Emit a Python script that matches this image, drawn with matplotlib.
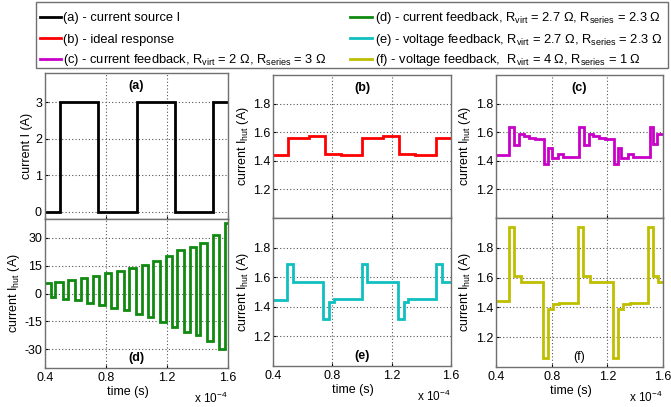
import matplotlib
matplotlib.use("Agg")
import matplotlib.pyplot as plt
from matplotlib.lines import Line2D
from matplotlib.patches import Rectangle

plt.rcParams['font.family'] = ['Liberation Sans', 'DejaVu Sans']
plt.rcParams['mathtext.fontset'] = 'custom'
plt.rcParams['mathtext.rm'] = 'Liberation Sans'
plt.rcParams['mathtext.it'] = 'Liberation Sans:italic'
plt.rcParams['mathtext.bf'] = 'Liberation Sans:bold'
plt.rcParams['axes.unicode_minus'] = False

# ---------------- data (time in units of 1e-4 s) ----------------
t_a = [0.4, 0.5, 0.75, 1.0, 1.25, 1.5, 1.6]
i_a = [0, 3, 0, 3, 0, 3, 3]

t_b = [0.4, 0.5, 0.64, 0.75, 0.86, 1.0, 1.14, 1.25, 1.36, 1.5, 1.6]
i_b = [1.44, 1.56, 1.57, 1.45, 1.44, 1.56, 1.57, 1.45, 1.44, 1.56, 1.56]

t_c = [0.4, 0.495, 0.53, 0.565, 0.60, 0.64, 0.68, 0.745, 0.775, 0.80, 0.845, 0.885,
       0.995, 1.03, 1.065, 1.10, 1.14, 1.18, 1.245, 1.275, 1.30, 1.345, 1.385,
       1.505, 1.53, 1.555, 1.6]
i_c = [1.44, 1.635, 1.51, 1.59, 1.575, 1.56, 1.55, 1.375, 1.49, 1.42, 1.45, 1.43,
       1.635, 1.51, 1.59, 1.575, 1.56, 1.55, 1.375, 1.49, 1.42, 1.45, 1.43,
       1.635, 1.52, 1.59, 1.59]

t_d = [0.4, 0.437, 0.466, 0.516, 0.553, 0.598, 0.634, 0.677, 0.713, 0.757, 0.793,
       0.836, 0.874, 0.915, 0.953, 0.995, 1.034, 1.075, 1.11, 1.152, 1.193, 1.233,
       1.268, 1.31, 1.351, 1.392, 1.416, 1.46, 1.504, 1.54, 1.58, 1.6]
i_d = [5.8, -1.8, 6.3, -2.7, 7.2, -3.6, 8.1, -4.9, 9.4, -6.3, 10.8, -7.8, 12.1,
       -9.0, 13.6, -10.8, 15.4, -12.6, 17.6, -15.4, 20.3, -18.1, 23.5, -20.8,
       25.0, -22.5, 27.0, -25.5, 31.4, -30.0, 38, 38]

t_e = [0.4, 0.497, 0.533, 0.58, 0.74, 0.78, 0.81, 0.998, 1.036, 1.08, 1.245, 1.28,
       1.31, 1.497, 1.537, 1.6]
i_e = [1.445, 1.69, 1.57, 1.565, 1.32, 1.435, 1.45, 1.69, 1.57, 1.565, 1.32, 1.435,
       1.45, 1.69, 1.565, 1.565]

t_f = [0.4, 0.495, 0.531, 0.579, 0.741, 0.777, 0.81, 0.855, 0.992, 1.028, 1.076,
       1.243, 1.279, 1.315, 1.36, 1.49, 1.53, 1.566, 1.6]
i_f = [1.44, 1.94, 1.61, 1.57, 1.06, 1.39, 1.42, 1.43, 1.94, 1.61, 1.57, 1.06,
       1.39, 1.42, 1.43, 1.94, 1.61, 1.57, 1.57]

x_ticks = [0.4, 0.8, 1.2, 1.6]
x_tick_labels = ['0.4', '0.8', '1.2', '1.6']
legend_labels = [
    "(a) - current source I",
    "(b) - ideal response",
    r"(c) - current feedback, R$_{\mathrm{virt}}$ = 2 Ω, R$_{\mathrm{series}}$ = 3 Ω",
    r"(d) - current feedback, R$_{\mathrm{virt}}$ = 2.7 Ω, R$_{\mathrm{series}}$ = 2.3 Ω",
    r"(e) - voltage feedback, R$_{\mathrm{virt}}$ = 2.7 Ω, R$_{\mathrm{series}}$ = 2.3 Ω",
    r"(f) - voltage feedback,  R$_{\mathrm{virt}}$ = 4 Ω, R$_{\mathrm{series}}$ = 1 Ω",
]
colors = ['#000000', '#ff0000', '#c800c8', '#108a10', '#10c0c0', '#bfbf00']

# ---------------- layout ----------------
W, H = 671, 407
fig = plt.figure(figsize=(W / 100, H / 100), dpi=100)


def ax_at(l, r, t, b):
    return fig.add_axes([l / W, 1 - b / H, (r - l) / W, (b - t) / H])


axa = ax_at(45, 228, 73, 219)
axd = ax_at(45, 228, 219, 368)
axb = ax_at(273, 451, 75, 218)
axe = ax_at(273, 451, 218, 366)
axc = ax_at(496, 663, 75, 218)
axf = ax_at(496, 663, 218, 367)

series = [(axa, t_a, i_a), (axb, t_b, i_b), (axc, t_c, i_c),
          (axd, t_d, i_d), (axe, t_e, i_e), (axf, t_f, i_f)]
for (ax, t, v), c in zip(series, colors):
    ax.plot(t, v, drawstyle='steps-post', color=c, lw=2.0, solid_joinstyle='miter')

for ax in [axa, axb, axc, axd, axe, axf]:
    ax.set_xlim(0.4, 1.6)
    ax.set_xticks(x_ticks)
    ax.grid(True, linestyle=(0, (1, 2)), color='#555555', linewidth=0.8)
    ax.tick_params(direction='in', length=2, labelsize=9, colors='#000000', pad=2.2)
    ax.tick_params(axis='x', pad=3)
    for s in ax.spines.values():
        s.set_color('#707070')
        s.set_linewidth(1.0)

for ax in [axa, axb, axc]:
    ax.set_xticklabels([])
for ax in [axd, axe, axf]:
    ax.set_xticklabels(x_tick_labels)
    h = ax.get_position().height * H
    w = ax.get_position().width * W
    ax.set_xlabel('time (s)', fontsize=9)
    ax.xaxis.set_label_coords(0.5 - 9 / w, -18 / h)
    ax.text(1.0, -23 / h, r'x 10$^{-4}$', transform=ax.transAxes, ha='right', va='top', fontsize=8.5)

axa.set_ylim(-0.2, 3.8)
axa.set_yticks([0, 1, 2, 3])
axd.set_ylim(-40, 40)
axd.set_yticks([-30, -15, 0, 15, 30])
for ax in [axb, axc, axe, axf]:
    ax.set_ylim(1.0, 2.0)
    ax.set_yticks([1.2, 1.4, 1.6, 1.8])

axa.set_ylabel('current I (A)', fontsize=9)
for ax in [axb, axc, axd, axe, axf]:
    ax.set_ylabel(r'current I$_{\mathrm{hut}}$ (A)', fontsize=9)

ylab_right = {axa: 33, axd: 22, axb: 251, axe: 251, axc: 473, axf: 473}
for ax, xr in ylab_right.items():
    p = ax.get_position()
    ax.yaxis.set_label_coords((xr / W - p.x0) / p.width, 0.5)

for ax, lab in [(axa, '(a)'), (axb, '(b)'), (axc, '(c)')]:
    ax.text(0.5, 0.95, lab, transform=ax.transAxes, ha='center', va='top', fontsize=9, fontweight='bold')
for ax, lab, fw in [(axd, '(d)', 'bold'), (axe, '(e)', 'bold'), (axf, '(f)', 'normal')]:
    ax.text(0.5, 0.025, lab, transform=ax.transAxes, ha='center', va='bottom', fontsize=9, fontweight=fw)

# ---------------- legend box (two aligned columns) ----------------
fig.add_artist(Rectangle((36 / W, 1 - 68 / H), (668 - 36) / W, (68 - 2) / H, fill=False,
                         edgecolor='#707070', lw=1.0, transform=fig.transFigure))
row_y = [17, 38, 59]
col_x = [(40, 61, 63), (350, 372, 375)]
for k, (lab, c) in enumerate(zip(legend_labels, colors)):
    col, row = divmod(k, 3)
    x0, x1, xt = col_x[col]
    y = row_y[row]
    fig.add_artist(Line2D([x0 / W, x1 / W], [1 - y / H, 1 - y / H], color=c, lw=2.0,
                          transform=fig.transFigure))
    fig.text(xt / W, 1 - (y + 4.5) / H, lab, fontsize=9.3, va='baseline', ha='left')

fig.savefig('out.png', dpi=100)
